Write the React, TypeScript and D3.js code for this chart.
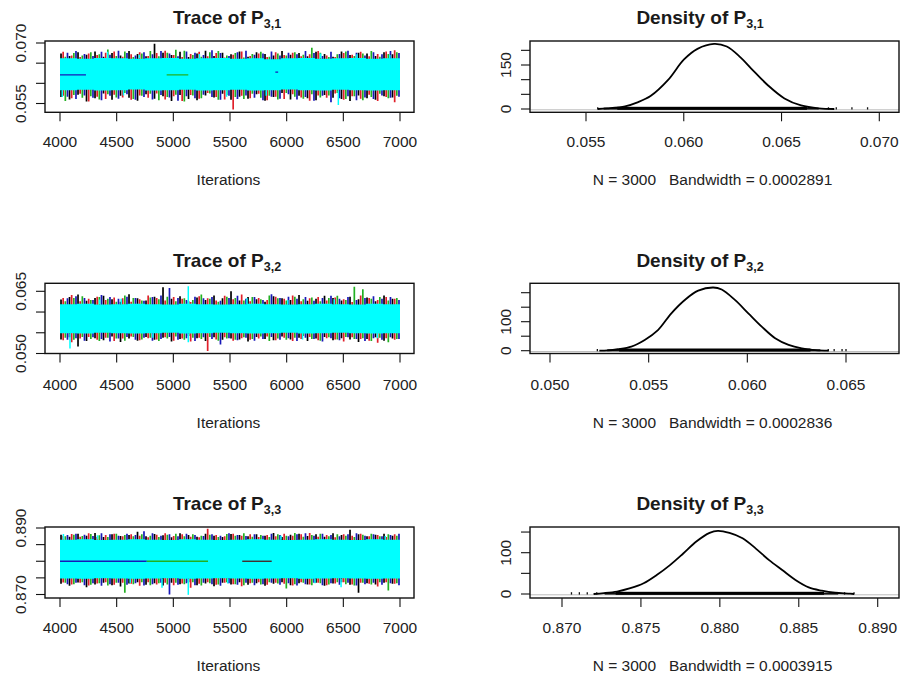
import React from "react";
import * as d3 from "d3";

// ---------------- data ----------------
const ITER_TICKS = [4000, 4500, 5000, 5500, 6000, 6500, 7000];
const CHAIN_COLORS = ["#000000", "#E0202A", "#22B022", "#1818B8"];
const CYAN = "#00FFFF";

// Trace of P3,1 : per-bin (75 iterations) extremes of the four dark chains
const blackHi1 = [0.0674,0.0668,0.0677,0.0671,0.0679,0.0666,0.0675,0.0669,0.0680,0.0673,0.0667,0.0698,0.0676,0.0670,0.0678,0.0665,0.0674,0.0681,0.0668,0.0676,0.0672,0.0679,0.0666,0.0677,0.0673,0.0669,0.0680,0.0671,0.0675,0.0667,0.0678,0.0673,0.0666,0.0679,0.0670,0.0676,0.0674,0.0668,0.0677,0.0672];
const blackLo1 = [0.0566,0.0560,0.0572,0.0555,0.0563,0.0575,0.0559,0.0569,0.0564,0.0557,0.0573,0.0562,0.0568,0.0556,0.0571,0.0561,0.0558,0.0570,0.0565,0.0574,0.0559,0.0567,0.0562,0.0573,0.0557,0.0566,0.0576,0.0560,0.0569,0.0563,0.0558,0.0571,0.0564,0.0561,0.0556,0.0570,0.0563,0.0559,0.0568,0.0565];
const redHi1 = [0.0678,0.0669,0.0665,0.0674,0.0670,0.0676,0.0679,0.0666,0.0672,0.0677,0.0668,0.0675,0.0681,0.0670,0.0665,0.0673,0.0678,0.0667,0.0675,0.0664,0.0671,0.0679,0.0668,0.0674,0.0665,0.0677,0.0670,0.0676,0.0667,0.0672,0.0680,0.0669,0.0665,0.0675,0.0671,0.0678,0.0667,0.0673,0.0679,0.0682];
const redLo1 = [0.0569,0.0563,0.0574,0.0555,0.0567,0.0561,0.0572,0.0565,0.0559,0.0570,0.0564,0.0575,0.0560,0.0568,0.0556,0.0571,0.0562,0.0576,0.0566,0.0560,0.0535,0.0569,0.0563,0.0574,0.0558,0.0567,0.0561,0.0573,0.0565,0.0557,0.0570,0.0564,0.0575,0.0559,0.0568,0.0562,0.0572,0.0556,0.0566,0.0553];
const greenHi1 = [0.0666,0.0675,0.0669,0.0677,0.0672,0.0684,0.0668,0.0679,0.0665,0.0674,0.0680,0.0667,0.0676,0.0683,0.0681,0.0670,0.0666,0.0677,0.0680,0.0669,0.0675,0.0664,0.0673,0.0678,0.0666,0.0674,0.0669,0.0677,0.0671,0.0688,0.0676,0.0665,0.0672,0.0679,0.0668,0.0674,0.0680,0.0666,0.0673,0.0677];
const greenLo1 = [0.0556,0.0571,0.0564,0.0568,0.0560,0.0573,0.0565,0.0576,0.0561,0.0569,0.0574,0.0558,0.0566,0.0572,0.0555,0.0570,0.0563,0.0575,0.0559,0.0571,0.0566,0.0561,0.0574,0.0564,0.0569,0.0560,0.0576,0.0567,0.0562,0.0573,0.0565,0.0570,0.0576,0.0561,0.0568,0.0558,0.0566,0.0574,0.0563,0.0569];
const blueHi1 = [0.0676,0.0680,0.0673,0.0668,0.0678,0.0671,0.0681,0.0675,0.0669,0.0677,0.0672,0.0680,0.0674,0.0667,0.0679,0.0676,0.0670,0.0682,0.0675,0.0668,0.0677,0.0681,0.0671,0.0674,0.0679,0.0669,0.0676,0.0672,0.0680,0.0675,0.0668,0.0678,0.0673,0.0681,0.0676,0.0669,0.0677,0.0672,0.0680,0.0675];
const blueLo1 = [0.0567,0.0561,0.0570,0.0564,0.0558,0.0569,0.0562,0.0573,0.0559,0.0566,0.0560,0.0571,0.0565,0.0557,0.0568,0.0563,0.0572,0.0566,0.0559,0.0569,0.0561,0.0570,0.0564,0.0558,0.0567,0.0562,0.0573,0.0560,0.0566,0.0557,0.0569,0.0553,0.0563,0.0568,0.0558,0.0565,0.0561,0.0570,0.0564,0.0567];
// cyan chain band (per 150 iterations)
const cyanHi1 = [0.0662,0.0661,0.0663,0.0662,0.0661,0.0662,0.0663,0.0661,0.0662,0.0663,0.0661,0.0662,0.0660,0.0662,0.0663,0.0661,0.0662,0.0663,0.0661,0.0662];
const cyanLo1 = [0.0583,0.0584,0.0582,0.0583,0.0585,0.0582,0.0583,0.0584,0.0582,0.0583,0.0584,0.0582,0.0583,0.0585,0.0583,0.0582,0.0584,0.0583,0.0582,0.0583];
const cyanSpikes1: [number, number, number][] = [[6456,0.0582,0.0546],[4420,0.0662,0.0678],[4020,0.0583,0.0566],[6300,0.0662,0.0674],[5470,0.0583,0.0567],[4700,0.0662,0.0671],[5230,0.0662,0.0673],[5820,0.0583,0.0569],[6620,0.0662,0.0672],[4560,0.0583,0.0570],[6910,0.0662,0.0670]];
const flatRuns1: [number, number, number, number][] = [[3,4000,4229,0.0621],[2,4941,5132,0.0621],[3,5900,5925,0.0628]];

// Trace of P3,2
const blackHi2 = [0.0630,0.0636,0.0642,0.0627,0.0634,0.0639,0.0631,0.0625,0.0643,0.0633,0.0628,0.0637,0.0660,0.0632,0.0638,0.0626,0.0635,0.0629,0.0640,0.0633,0.0650,0.0628,0.0636,0.0631,0.0625,0.0638,0.0633,0.0629,0.0641,0.0627,0.0632,0.0639,0.0634,0.0628,0.0637,0.0631,0.0635,0.0626,0.0640,0.0632];
const blackLo2 = [0.0534,0.0539,0.0517,0.0530,0.0537,0.0532,0.0541,0.0528,0.0536,0.0531,0.0540,0.0533,0.0538,0.0529,0.0535,0.0542,0.0537,0.0530,0.0539,0.0533,0.0536,0.0534,0.0529,0.0540,0.0535,0.0532,0.0541,0.0534,0.0538,0.0530,0.0536,0.0540,0.0532,0.0537,0.0534,0.0528,0.0535,0.0539,0.0531,0.0536];
const redHi2 = [0.0634,0.0641,0.0626,0.0632,0.0637,0.0629,0.0635,0.0633,0.0625,0.0631,0.0640,0.0634,0.0628,0.0636,0.0632,0.0624,0.0638,0.0633,0.0628,0.0639,0.0631,0.0642,0.0626,0.0634,0.0629,0.0637,0.0632,0.0640,0.0626,0.0633,0.0636,0.0628,0.0635,0.0631,0.0624,0.0640,0.0634,0.0629,0.0636,0.0632];
const redLo2 = [0.0532,0.0527,0.0536,0.0540,0.0533,0.0538,0.0530,0.0536,0.0541,0.0532,0.0537,0.0534,0.0539,0.0531,0.0536,0.0529,0.0538,0.0506,0.0534,0.0539,0.0531,0.0537,0.0533,0.0536,0.0541,0.0532,0.0538,0.0530,0.0535,0.0540,0.0532,0.0537,0.0534,0.0529,0.0539,0.0535,0.0531,0.0526,0.0537,0.0533];
const greenHi2 = [0.0626,0.0634,0.0638,0.0629,0.0636,0.0632,0.0625,0.0640,0.0634,0.0628,0.0635,0.0631,0.0637,0.0626,0.0633,0.0629,0.0642,0.0632,0.0625,0.0637,0.0634,0.0628,0.0636,0.0631,0.0640,0.0633,0.0628,0.0637,0.0631,0.0635,0.0626,0.0634,0.0639,0.0629,0.0661,0.0655,0.0632,0.0636,0.0628,0.0634];
const greenLo2 = [0.0538,0.0533,0.0540,0.0535,0.0530,0.0538,0.0536,0.0531,0.0540,0.0534,0.0538,0.0530,0.0536,0.0541,0.0533,0.0538,0.0535,0.0540,0.0531,0.0536,0.0533,0.0539,0.0535,0.0541,0.0530,0.0536,0.0533,0.0538,0.0542,0.0535,0.0531,0.0539,0.0534,0.0540,0.0535,0.0537,0.0530,0.0538,0.0527,0.0535];
const blueHi2 = [0.0633,0.0638,0.0634,0.0629,0.0641,0.0636,0.0632,0.0637,0.0634,0.0627,0.0636,0.0640,0.0658,0.0634,0.0629,0.0637,0.0633,0.0636,0.0627,0.0634,0.0639,0.0632,0.0636,0.0629,0.0643,0.0634,0.0637,0.0632,0.0636,0.0627,0.0634,0.0639,0.0632,0.0636,0.0629,0.0634,0.0638,0.0632,0.0636,0.0629];
const blueLo2 = [0.0533,0.0537,0.0531,0.0539,0.0535,0.0529,0.0536,0.0540,0.0533,0.0538,0.0531,0.0535,0.0540,0.0533,0.0537,0.0530,0.0539,0.0535,0.0522,0.0537,0.0532,0.0538,0.0531,0.0535,0.0540,0.0533,0.0537,0.0530,0.0538,0.0535,0.0529,0.0537,0.0532,0.0539,0.0535,0.0530,0.0537,0.0533,0.0539,0.0535];
const cyanHi2 = [0.0619,0.0620,0.0618,0.0619,0.0620,0.0619,0.0618,0.0620,0.0619,0.0618,0.0619,0.0620,0.0619,0.0618,0.0619,0.0620,0.0619,0.0618,0.0620,0.0619];
const cyanLo2 = [0.0549,0.0548,0.0550,0.0549,0.0548,0.0549,0.0550,0.0548,0.0549,0.0550,0.0549,0.0548,0.0549,0.0550,0.0548,0.0549,0.0550,0.0549,0.0548,0.0549];
const cyanSpikes2: [number, number, number][] = [[5132,0.0619,0.0662],[5132,0.0549,0.0527],[4088,0.0549,0.0512],[6140,0.0549,0.0534],[4540,0.0619,0.0632],[4350,0.0619,0.0630],[5650,0.0619,0.0633],[6010,0.0619,0.0629],[6800,0.0549,0.0537],[4820,0.0549,0.0538],[6420,0.0619,0.0631]];
const flatRuns2: [number, number, number, number][] = [];

// Trace of P3,3
const blackHi3 = [0.8880,0.8874,0.8883,0.8877,0.8885,0.8873,0.8881,0.8876,0.8879,0.8889,0.8875,0.8882,0.8878,0.8872,0.8884,0.8879,0.8874,0.8883,0.8877,0.8873,0.8882,0.8879,0.8875,0.8881,0.8877,0.8885,0.8873,0.8880,0.8883,0.8876,0.8881,0.8874,0.8884,0.8879,0.8895,0.8881,0.8875,0.8880,0.8883,0.8877];
const blackLo3 = [0.8732,0.8726,0.8736,0.8722,0.8730,0.8735,0.8728,0.8724,0.8733,0.8737,0.8729,0.8734,0.8727,0.8735,0.8731,0.8737,0.8728,0.8733,0.8725,0.8735,0.8730,0.8737,0.8729,0.8734,0.8726,0.8732,0.8737,0.8728,0.8734,0.8730,0.8735,0.8726,0.8733,0.8737,0.8729,0.8705,0.8734,0.8730,0.8735,0.8732];
const redHi3 = [0.8877,0.8882,0.8874,0.8884,0.8873,0.8879,0.8883,0.8875,0.8881,0.8877,0.8872,0.8880,0.8884,0.8876,0.8881,0.8874,0.8872,0.8898,0.8879,0.8875,0.8883,0.8877,0.8881,0.8873,0.8879,0.8875,0.8883,0.8877,0.8881,0.8885,0.8874,0.8879,0.8872,0.8881,0.8877,0.8883,0.8875,0.8879,0.8873,0.8881];
const redLo3 = [0.8736,0.8730,0.8735,0.8727,0.8733,0.8737,0.8729,0.8735,0.8732,0.8726,0.8737,0.8730,0.8735,0.8728,0.8733,0.8720,0.8732,0.8737,0.8729,0.8735,0.8731,0.8725,0.8734,0.8737,0.8729,0.8735,0.8732,0.8727,0.8737,0.8730,0.8735,0.8728,0.8733,0.8737,0.8730,0.8735,0.8732,0.8724,0.8737,0.8732];
const greenHi3 = [0.8875,0.8880,0.8876,0.8882,0.8878,0.8873,0.8883,0.8879,0.8875,0.8881,0.8877,0.8873,0.8880,0.8883,0.8875,0.8881,0.8877,0.8880,0.8873,0.8882,0.8877,0.8884,0.8874,0.8879,0.8873,0.8881,0.8877,0.8885,0.8874,0.8879,0.8883,0.8875,0.8881,0.8877,0.8873,0.8880,0.8883,0.8875,0.8881,0.8877];
const greenLo3 = [0.8735,0.8731,0.8737,0.8729,0.8734,0.8727,0.8735,0.8705,0.8731,0.8737,0.8728,0.8734,0.8730,0.8735,0.8731,0.8737,0.8727,0.8734,0.8730,0.8737,0.8731,0.8728,0.8735,0.8730,0.8737,0.8733,0.8718,0.8731,0.8735,0.8728,0.8734,0.8730,0.8737,0.8731,0.8727,0.8735,0.8730,0.8737,0.8712,0.8734];
const blueHi3 = [0.8879,0.8883,0.8880,0.8876,0.8884,0.8881,0.8877,0.8883,0.8879,0.8890,0.8884,0.8877,0.8881,0.8875,0.8883,0.8879,0.8876,0.8881,0.8877,0.8884,0.8879,0.8876,0.8881,0.8877,0.8883,0.8879,0.8875,0.8881,0.8884,0.8877,0.8883,0.8879,0.8875,0.8881,0.8884,0.8877,0.8881,0.8875,0.8879,0.8883];
const blueLo3 = [0.8731,0.8735,0.8728,0.8734,0.8726,0.8731,0.8735,0.8729,0.8734,0.8727,0.8731,0.8735,0.8700,0.8729,0.8734,0.8728,0.8735,0.8731,0.8726,0.8734,0.8729,0.8735,0.8728,0.8731,0.8735,0.8729,0.8734,0.8727,0.8731,0.8735,0.8728,0.8734,0.8729,0.8735,0.8727,0.8731,0.8735,0.8729,0.8734,0.8728];
const cyanHi3 = [0.8865,0.8866,0.8864,0.8865,0.8866,0.8865,0.8864,0.8866,0.8865,0.8864,0.8865,0.8866,0.8865,0.8864,0.8865,0.8866,0.8865,0.8864,0.8866,0.8865];
const cyanLo3 = [0.8748,0.8747,0.8749,0.8748,0.8747,0.8748,0.8749,0.8747,0.8748,0.8749,0.8748,0.8747,0.8748,0.8749,0.8747,0.8748,0.8749,0.8748,0.8747,0.8748];
const cyanSpikes3: [number, number, number][] = [[5132,0.8748,0.8699],[4030,0.8865,0.8882],[6480,0.8748,0.8722],[4900,0.8748,0.8720],[4330,0.8865,0.8878],[5480,0.8748,0.8733],[5950,0.8865,0.8877],[6250,0.8748,0.8734],[6870,0.8865,0.8876],[4620,0.8748,0.8735]];
const flatRuns3: [number, number, number, number][] = [[3,4000,4765,0.8800],[2,4765,5306,0.8800],[0,5608,5868,0.8800]];

// Density curves (x value, density)
const densX1 = [0.0556,0.0561,0.0570,0.0576,0.0583,0.0592,0.0600,0.0607,0.06155,0.0622,0.0629,0.06345,0.0643,0.06515,0.0660,0.0669,0.0677];
const densY1 = [0,2,9,22,44,99,168,205,222,213,176,138,81,36,12,2,0];
const densX2 = [0.0525,0.05293,0.05344,0.05412,0.05480,0.05547,0.05615,0.05683,0.05751,0.05827,0.05870,0.05937,0.06005,0.06073,0.06141,0.06209,0.06276,0.06344,0.06412];
const densY2 = [0,1,5,14,37,71,129,175,207,218,211,175,129,83,43,20,8,2,0];
const densX3 = [0.8720,0.87266,0.87349,0.87433,0.87517,0.87600,0.87684,0.87768,0.87851,0.87935,0.87987,0.88061,0.88144,0.88228,0.88312,0.88395,0.88479,0.88563,0.88646,0.8873,0.88814,0.8885];
const densY3 = [0,2,6,14,26,46,70,98,127,148,153,148,135,110,82,58,34,16,8,3,1,0];
// observation rugs
const rugCore1 = [0.0566, 0.0663], rugTail1 = [0.0559, 0.0669], rugSparse1 = [0.0556, 0.0674, 0.0678, 0.0686, 0.0694];
const rugCore2 = [0.0535, 0.0632], rugTail2 = [0.0529, 0.0637], rugSparse2 = [0.0524, 0.0641, 0.0644, 0.0648, 0.0650];
const rugCore3 = [0.8734, 0.8866], rugTail3 = [0.8727, 0.8875], rugSparse3 = [0.8706, 0.8711, 0.8716, 0.8722, 0.8879, 0.8885];

const traceYTicks1 = [0.055, 0.060, 0.065, 0.070], traceYLabels1 = [0.055, 0.070];
const traceYTicks2 = [0.050, 0.055, 0.060, 0.065], traceYLabels2 = [0.050, 0.065];
const traceYTicks3 = [0.870, 0.875, 0.880, 0.885, 0.890], traceYLabels3 = [0.870, 0.890];
const densXTicks1 = [0.055, 0.060, 0.065, 0.070];
const densXTicks2 = [0.050, 0.055, 0.060, 0.065];
const densXTicks3 = [0.870, 0.875, 0.880, 0.885, 0.890];
const densYTicks1 = [0, 50, 100, 150, 200], densYLabels1 = [0, 150];
const densYTicks2 = [0, 50, 100, 150, 200], densYLabels2 = [0, 100];
const densYTicks3 = [0, 50, 100, 150], densYLabels3 = [0, 100];
const SUBS = ["3,1", "3,2", "3,3"];
const BANDWIDTHS = ["0.0002891", "0.0002836", "0.0003915"];
const N_OBS = 3000;

// ---------------- layout ----------------
const FONT = "'Liberation Sans', Arial, Helvetica, sans-serif";
const TXT = "#222";
const BIN = 75;
const CYAN_BIN = 150;
const ROW_DY = 243;

const traces = [
  { hi: [blackHi1, redHi1, greenHi1, blueHi1], lo: [blackLo1, redLo1, greenLo1, blueLo1], cHi: cyanHi1, cLo: cyanLo1, spikes: cyanSpikes1, runs: flatRuns1, yTicks: traceYTicks1, yLabels: traceYLabels1, box: [45, 41, 414, 112.3], yDom: [0.055, 0.070], yRng: [103.5, 43] },
  { hi: [blackHi2, redHi2, greenHi2, blueHi2], lo: [blackLo2, redLo2, greenLo2, blueLo2], cHi: cyanHi2, cLo: cyanLo2, spikes: cyanSpikes2, runs: flatRuns2, yTicks: traceYTicks2, yLabels: traceYLabels2, box: [45, 283.3, 414, 353.5], yDom: [0.050, 0.065], yRng: [353.5, 291.3] },
  { hi: [blackHi3, redHi3, greenHi3, blueHi3], lo: [blackLo3, redLo3, greenLo3, blueLo3], cHi: cyanHi3, cLo: cyanLo3, spikes: cyanSpikes3, runs: flatRuns3, yTicks: traceYTicks3, yLabels: traceYLabels3, box: [45, 527, 414, 598], yDom: [0.870, 0.890], yRng: [594.5, 528] },
];

const dens = [
  { xs: densX1, ys: densY1, core: rugCore1, tail: rugTail1, sparse: rugSparse1, xTicks: densXTicks1, yTicks: densYTicks1, yLabels: densYLabels1, box: [530, 41, 899, 112.3], xDom: [0.055, 0.070], xRng: [586, 879.3], yDom: [0, 150], yRng: [109, 65] },
  { xs: densX2, ys: densY2, core: rugCore2, tail: rugTail2, sparse: rugSparse2, xTicks: densXTicks2, yTicks: densYTicks2, yLabels: densYLabels2, box: [530, 283.3, 899, 353.5], xDom: [0.050, 0.065], xRng: [550, 846], yDom: [0, 100], yRng: [350.7, 321.7] },
  { xs: densX3, ys: densY3, core: rugCore3, tail: rugTail3, sparse: rugSparse3, xTicks: densXTicks3, yTicks: densYTicks3, yLabels: densYLabels3, box: [530, 527, 899, 598], xDom: [0.870, 0.890], xRng: [562, 877.7], yDom: [0, 100], yRng: [594, 552.7] },
];

const fmt3 = d3.format(".3f");

function Title({ x, y, main, sub }: { x: number; y: number; main: string; sub: string }) {
  return (
    <text x={x} y={y} textAnchor="middle" fontFamily={FONT} fontWeight="bold" fontSize={19} fill="#1a1a1a">
      {main}
      <tspan fontSize={12.5} dy={4}>{sub}</tspan>
    </text>
  );
}

function TracePanel({ p, row }: { p: any; row: number }) {
  const [bx0, by0, bx1, by1] = p.box;
  const x = d3.scaleLinear().domain([4000, 7000]).range([60, 400]);
  const y = d3.scaleLinear().domain(p.yDom).range(p.yRng);
  const off = row * ROW_DY;
  const clipId = `tclip${row}`;
  const strokePaths = p.hi.map((his: number[], k: number) => {
    let d = "";
    his.forEach((h: number, i: number) => {
      const it = 4000 + BIN * i + 9 + 19 * k;
      d += `M${x(it).toFixed(2)},${y(p.lo[k][i]).toFixed(2)}V${y(h).toFixed(2)}`;
    });
    return d;
  });
  const bandData = p.cHi.map((h: number, i: number) => ({ it: 4000 + CYAN_BIN * i, hi: h, lo: p.cLo[i] }));
  bandData.push({ it: 7000, hi: p.cHi[p.cHi.length - 1], lo: p.cLo[p.cLo.length - 1] });
  const area = d3.area<any>().x((d) => x(d.it)).y0((d) => y(d.lo)).y1((d) => y(d.hi)).curve(d3.curveStepAfter);
  const cx = (bx0 + bx1) / 2;
  return (
    <g>
      <defs>
        <clipPath id={clipId}><rect x={bx0} y={by0} width={bx1 - bx0} height={by1 - by0} /></clipPath>
      </defs>
      <Title x={227} y={24 + off} main="Trace of P" sub={SUBS[row]} />
      <g clipPath={`url(#${clipId})`}>
        {strokePaths.map((d: string, k: number) => (
          <path key={k} d={d} stroke={CHAIN_COLORS[k]} strokeWidth={1.7} fill="none" />
        ))}
        <path d={area(bandData) || ""} fill={CYAN} />
        {p.spikes.map((s: number[], i: number) => (
          <line key={i} x1={x(s[0])} x2={x(s[0])} y1={y(s[1])} y2={y(s[2])} stroke={CYAN} strokeWidth={1.5} />
        ))}
        {p.runs.map((r: number[], i: number) => (
          <line key={i} x1={x(r[1])} x2={x(r[2])} y1={y(r[3])} y2={y(r[3])} stroke={r[0] === 0 ? "#4a1a1a" : CHAIN_COLORS[r[0]]} strokeWidth={1.3} />
        ))}
      </g>
      <rect x={bx0} y={by0} width={bx1 - bx0} height={by1 - by0} fill="none" stroke="#111" strokeWidth={1.4} />
      {ITER_TICKS.map((t) => (
        <g key={t}>
          <line x1={x(t)} x2={x(t)} y1={by1} y2={by1 + 9} stroke="#111" strokeWidth={1.1} />
          <text x={x(t)} y={146.5 + off} textAnchor="middle" fontFamily={FONT} fontSize={15.5} fill={TXT}>{t}</text>
        </g>
      ))}
      {p.yTicks.map((t: number) => (
        <line key={t} x1={bx0 - 9} x2={bx0} y1={y(t)} y2={y(t)} stroke="#111" strokeWidth={1.1} />
      ))}
      {p.yLabels.map((t: number) => (
        <text key={t} transform={`translate(25.5,${y(t)}) rotate(-90)`} textAnchor="middle" fontFamily={FONT} fontSize={15.5} fill={TXT}>{fmt3(t)}</text>
      ))}
      <text x={cx - 1} y={185 + off} textAnchor="middle" fontFamily={FONT} fontSize={15.5} fill={TXT}>Iterations</text>
    </g>
  );
}

function DensityPanel({ p, row }: { p: any; row: number }) {
  const [bx0, by0, bx1, by1] = p.box;
  const x = d3.scaleLinear().domain(p.xDom).range(p.xRng);
  const y = d3.scaleLinear().domain(p.yDom).range(p.yRng);
  const off = row * ROW_DY;
  const y0 = y(0);
  const pts: [number, number][] = p.xs.map((v: number, i: number) => [v, p.ys[i]]);
  const line = d3.line<[number, number]>().x((d) => x(d[0])).y((d) => y(d[1])).curve(d3.curveCatmullRom.alpha(0.5));
  const clipId = `dclip${row}`;
  const cx = (bx0 + bx1) / 2;
  return (
    <g>
      <defs>
        <clipPath id={clipId}><rect x={bx0} y={by0} width={bx1 - bx0} height={by1 - by0} /></clipPath>
      </defs>
      <Title x={700} y={24 + off} main="Density of P" sub={SUBS[row]} />
      <g clipPath={`url(#${clipId})`}>
        <line x1={bx0} x2={bx1} y1={y0 + 0.8} y2={y0 + 0.8} stroke="#bdbdbd" strokeWidth={1} />
        <rect x={x(p.tail[0])} y={y0 - 1.4} width={x(p.tail[1]) - x(p.tail[0])} height={2} fill="#111" />
        <rect x={x(p.core[0])} y={y0 - 2.2} width={x(p.core[1]) - x(p.core[0])} height={3} fill="#000" />
        {p.sparse.map((v: number, i: number) => (
          <line key={i} x1={x(v)} x2={x(v)} y1={y0 + 0.6} y2={y0 - 1.8} stroke="#111" strokeWidth={1.3} />
        ))}
        <path d={line(pts) || ""} fill="none" stroke="#000" strokeWidth={1.8} />
      </g>
      <rect x={bx0} y={by0} width={bx1 - bx0} height={by1 - by0} fill="none" stroke="#111" strokeWidth={1.4} />
      {p.xTicks.map((t: number) => (
        <g key={t}>
          <line x1={x(t)} x2={x(t)} y1={by1} y2={by1 + 9} stroke="#111" strokeWidth={1.1} />
          <text x={x(t)} y={146.5 + off} textAnchor="middle" fontFamily={FONT} fontSize={15.5} fill={TXT}>{fmt3(t)}</text>
        </g>
      ))}
      {p.yTicks.map((t: number) => (
        <line key={t} x1={bx0 - 9} x2={bx0} y1={y(t)} y2={y(t)} stroke="#111" strokeWidth={1.1} />
      ))}
      {p.yLabels.map((t: number) => (
        <text key={t} transform={`translate(511,${y(t)}) rotate(-90)`} textAnchor="middle" fontFamily={FONT} fontSize={15.5} fill={TXT}>{t}</text>
      ))}
      <text x={cx - 2} y={185 + off} textAnchor="middle" fontFamily={FONT} fontSize={15.5} fill={TXT} style={{ whiteSpace: "pre" }}>
        {`N = ${N_OBS}   Bandwidth = ${BANDWIDTHS[row]}`}
      </text>
    </g>
  );
}

export default function App() {
  return (
    <svg width={902} height={679} viewBox="0 0 902 679" style={{ position: "absolute", left: 0, top: 0, background: "#fff" }}>
      <rect x={0} y={0} width={902} height={679} fill="#fff" />
      {traces.map((p, i) => (
        <TracePanel key={`t${i}`} p={p} row={i} />
      ))}
      {dens.map((p, i) => (
        <DensityPanel key={`d${i}`} p={p} row={i} />
      ))}
    </svg>
  );
}
